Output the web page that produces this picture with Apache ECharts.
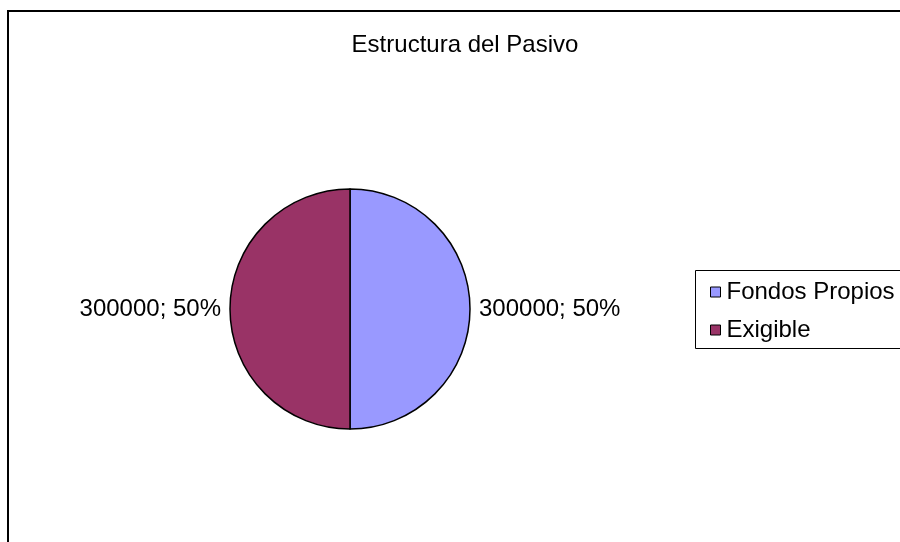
<!DOCTYPE html>
<html>
<head>
<meta charset="utf-8">
<script src="https://cdn.jsdelivr.net/npm/echarts@6/dist/echarts.min.js"></script>
<style>
html,body{margin:0;padding:0;background:#fff;}
#chart{width:900px;height:542px;}
</style>
</head>
<body>
<div id="chart"></div>
<script>
const titleText = 'Estructura del Pasivo';
const categories = ['Fondos Propios', 'Exigible'];
const values = [300000, 300000];
const colors = ['#9999FF', '#993366'];

const chart = echarts.init(document.getElementById('chart'), null, {renderer: 'canvas'});
const FONT = '"Liberation Sans", Arial, sans-serif';
chart.setOption({
  animation: false,
  backgroundColor: '#ffffff',
  title: {
    text: titleText,
    left: 460, top: 28, textAlign: 'center',
    textStyle: {fontFamily: FONT, fontSize: 24, fontWeight: 'normal', color: '#000'}
  },
  legend: {
    orient: 'vertical',
    left: 705, top: 275,
    icon: 'rect', itemWidth: 10, itemHeight: 10, itemGap: 14,
    itemStyle: {borderColor: '#000', borderWidth: 1},
    textStyle: {fontFamily: FONT, fontSize: 24, color: '#000', padding: [0,0,0,1]},
    data: categories
  },
  graphic: [
    {type: 'rect', shape: {x: 8, y: 11, width: 1000, height: 1000}, style: {fill: 'none', stroke: '#000', lineWidth: 2}, z: 100},
    {type: 'rect', shape: {x: 695.5, y: 270.5, width: 400, height: 78}, style: {fill: 'none', stroke: '#000', lineWidth: 1}, z: 100}
  ],
  series: [{
    type: 'pie',
    center: [350, 309],
    radius: 120,
    startAngle: 90,
    clockwise: true,
    data: categories.map((c, i) => ({name: c, value: values[i], itemStyle: {color: colors[i]}})),
    itemStyle: {borderColor: '#000', borderWidth: 1.5},
    label: {
      show: true, position: 'outside',
      formatter: p => p.value + '; ' + Math.round(p.percent) + '%',
      fontFamily: FONT, fontSize: 24, color: '#000'
    },
    labelLine: {show: false, length: 4, length2: 0},
    emphasis: {disabled: true}
  }]
});
</script>
</body>
</html>
